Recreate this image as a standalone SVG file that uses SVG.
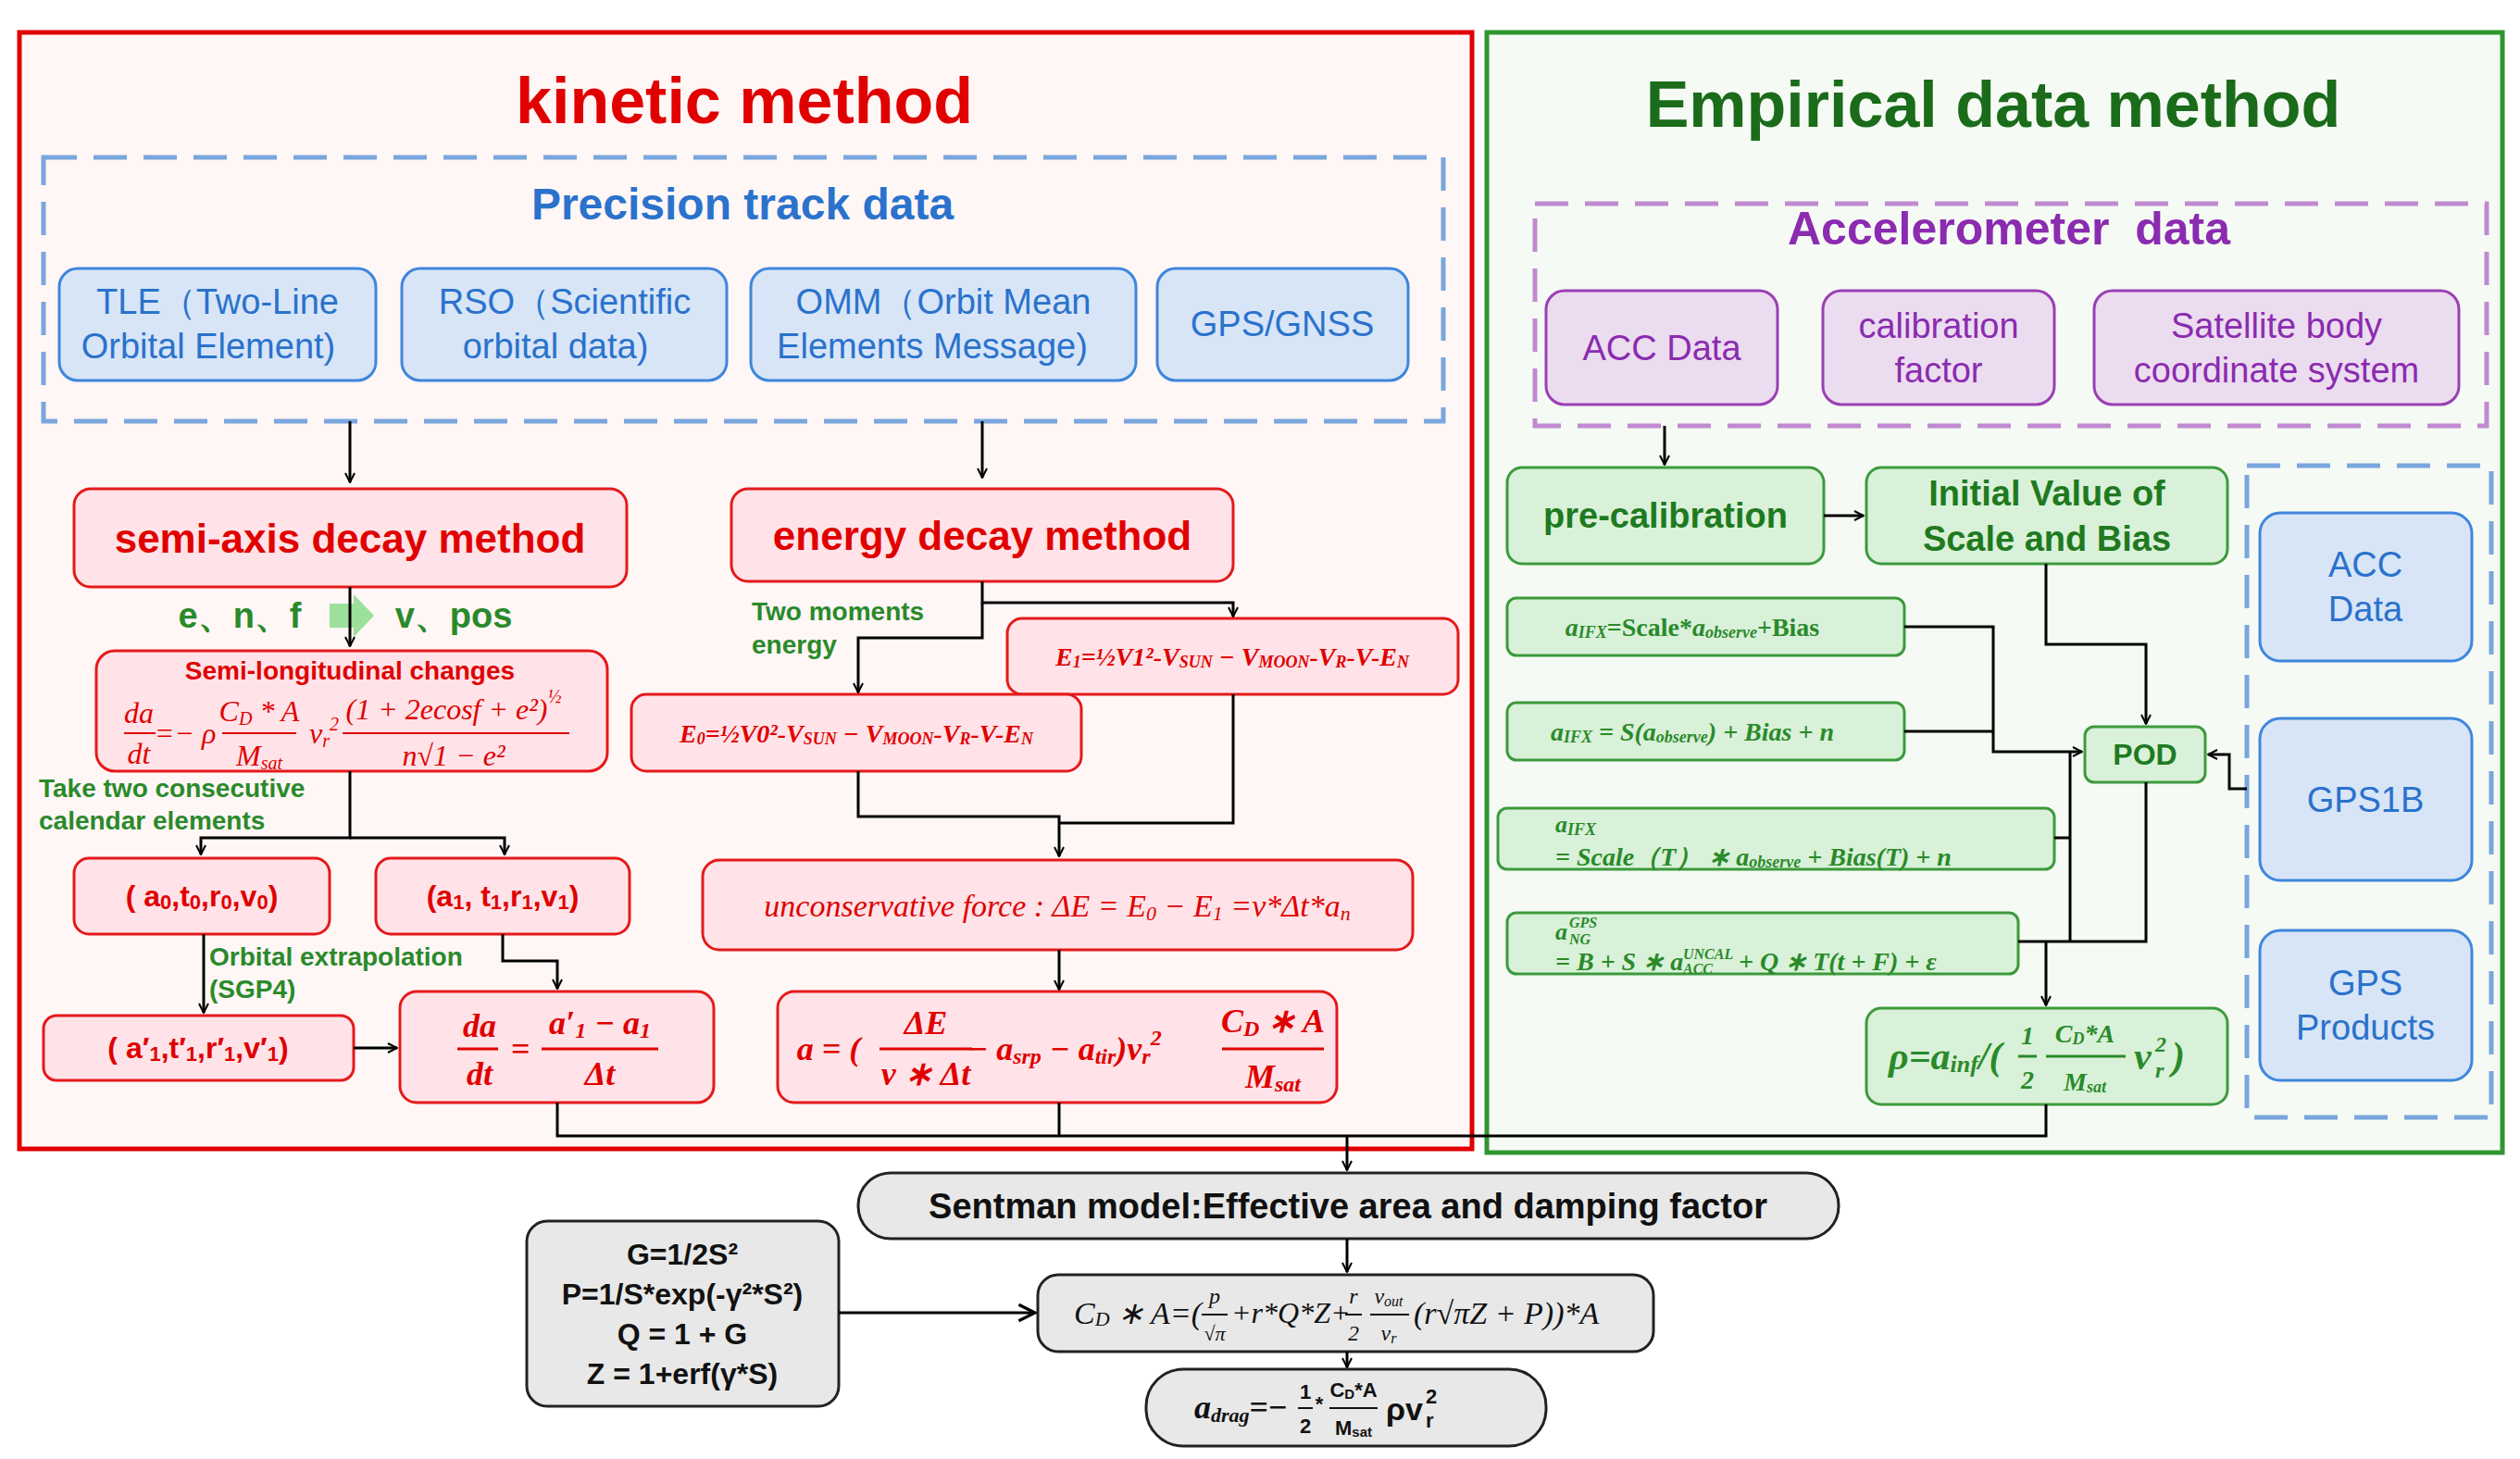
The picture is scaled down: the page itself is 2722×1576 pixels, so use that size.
<svg xmlns="http://www.w3.org/2000/svg" width="2722" height="1576" viewBox="0 0 2722 1576">
<defs>
<marker id="ar" viewBox="0 0 12 12" refX="11" refY="6" markerWidth="12" markerHeight="12" markerUnits="userSpaceOnUse" orient="auto"><path d="M1,1 L11,6 L1,11" fill="none" stroke="#000" stroke-width="2"/></marker>
<marker id="arb" viewBox="0 0 20 20" refX="18" refY="10" markerWidth="22" markerHeight="22" markerUnits="userSpaceOnUse" orient="auto"><path d="M2,2 L18,10 L2,18" fill="none" stroke="#000" stroke-width="3"/></marker>
</defs>
<style>
text{font-family:"Liberation Sans",Arial,sans-serif;text-anchor:middle;dominant-baseline:central}
.s{text-anchor:start}
.rn{fill:#ffe3e8;stroke:#e41a1a;stroke-width:3}
.rt{fill:#e00000;font-weight:bold}
.rf{fill:#e00000;font-family:"Liberation Serif",serif;font-style:italic}
.bn{fill:#d7e5f7;stroke:#3f86dc;stroke-width:3}
.bt{fill:#2a72cc;font-size:38px}
.pn{fill:#ecdcef;stroke:#9a3fb5;stroke-width:3}
.pt{fill:#8a2bb0;font-size:38px}
.gn{fill:#d9f1d9;stroke:#3c9a3c;stroke-width:3}
.gt{fill:#1f7a1f;font-weight:bold}
.gf{fill:#2a8a2a;font-family:"Liberation Serif",serif;font-weight:bold;font-style:italic}
.kn{fill:#e8e8e8;stroke:#222;stroke-width:3}
.kt{fill:#111;font-weight:bold}
.kf{fill:#111;font-family:"Liberation Serif",serif;font-style:italic}
.c{fill:none;stroke:#000;stroke-width:3}
.lab{fill:#2a8a2a;font-weight:bold}
</style>
<rect x="21" y="35" width="1569" height="1206" fill="#fff6f6" stroke="#e00000" stroke-width="5"/>
<rect x="1606" y="35" width="1097" height="1210" fill="#f5faf4" stroke="#2f962f" stroke-width="5"/>
<text x="804" y="109" font-size="70" font-weight="bold" fill="#e00000">kinetic method</text>
<text x="2153" y="113" font-size="70" font-weight="bold" fill="#1a6b1a">Empirical data method</text>
<rect x="47" y="170" width="1512" height="285" fill="none" stroke="#7aa6de" stroke-width="5" stroke-dasharray="36,18"/>
<text x="802" y="220" font-size="48" font-weight="bold" fill="#2a72cc">Precision track data</text>
<rect x="1658" y="220" width="1028" height="240" fill="none" stroke="#c08ad0" stroke-width="5" stroke-dasharray="36,18"/>
<text x="2170" y="247" font-size="50" font-weight="bold" fill="#8a2bb0">Accelerometer&#160; data</text>
<rect x="2427" y="503" width="264" height="704" fill="none" stroke="#7aa6de" stroke-width="5" stroke-dasharray="36,18"/>

<g id="tle"><rect class="bn" x="64" y="290" width="342" height="121" rx="20"/><text class="bt" x="235" y="326">TLE（Two-Line</text><text class="bt" x="225" y="374">Orbital Element)</text></g>
<g id="rso"><rect class="bn" x="434" y="290" width="351" height="121" rx="20"/><text class="bt" x="610" y="326">RSO（Scientific</text><text class="bt" x="600" y="374">orbital data)</text></g>
<g id="omm"><rect class="bn" x="811" y="290" width="416" height="121" rx="20"/><text class="bt" x="1019" y="326">OMM（Orbit Mean</text><text class="bt" x="1007" y="374">Elements Message)</text></g>
<g id="gps"><rect class="bn" x="1250" y="290" width="271" height="121" rx="20"/><text class="bt" x="1385" y="350">GPS/GNSS</text></g>

<g id="semi"><rect class="rn" x="80" y="528" width="597" height="106" rx="18"/><text class="rt" x="378" y="581" font-size="44">semi-axis decay method</text></g>
<g id="energy"><rect class="rn" x="790" y="528" width="542" height="100" rx="18"/><text class="rt" x="1061" y="578" font-size="44">energy decay method</text></g>
<g id="enf"><text class="lab" x="259" y="665" font-size="38">e、n、f</text><path d="M356,652 h26 v-10 l22,23 l-22,23 v-10 h-26z" fill="#9be09b"/><text class="lab" x="490" y="665" font-size="38">v、pos</text></g>
<g id="semilong"><rect class="rn" x="104" y="703" width="552" height="130" rx="20"/>
<text class="rt" x="378" y="724" font-size="28">Semi-longitudinal changes</text>
<text class="rf" font-size="32"><tspan x="150" y="770">da</tspan><tspan x="150" y="814">dt</tspan><tspan x="200" y="792">=− ρ</tspan><tspan x="280" y="768">C</tspan><tspan font-size="20" dy="8">D</tspan><tspan dy="-8"> * A</tspan><tspan x="280" y="816">M</tspan><tspan font-size="20" dy="8">sat</tspan><tspan x="350" y="792">v</tspan><tspan font-size="20" dy="8">r</tspan><tspan font-size="20" dy="-18">2</tspan><tspan x="490" y="766">(1 + 2ecosf + e²)</tspan><tspan font-size="20" dy="-14">½</tspan><tspan x="490" y="816">n√1 − e²</tspan></text>
<path d="M134,792 h34 M240,792 h80 M370,792 h245" stroke="#e00000" stroke-width="2"/></g>
<g id="take"><text class="lab s" x="42" y="851" font-size="28">Take two consecutive</text><text class="lab s" x="42" y="886" font-size="28">calendar elements</text></g>
<g id="a0"><rect class="rn" x="80" y="927" width="276" height="82" rx="16"/><text class="rt" x="218" y="968" font-size="32">( a<tspan font-size="22" dy="6">0</tspan><tspan dy="-6">,t</tspan><tspan font-size="22" dy="6">0</tspan><tspan dy="-6">,r</tspan><tspan font-size="22" dy="6">0</tspan><tspan dy="-6">,v</tspan><tspan font-size="22" dy="6">0</tspan><tspan dy="-6">)</tspan></text></g>
<g id="a1"><rect class="rn" x="406" y="927" width="274" height="82" rx="16"/><text class="rt" x="543" y="968" font-size="32">(a<tspan font-size="22" dy="6">1</tspan><tspan dy="-6">, t</tspan><tspan font-size="22" dy="6">1</tspan><tspan dy="-6">,r</tspan><tspan font-size="22" dy="6">1</tspan><tspan dy="-6">,v</tspan><tspan font-size="22" dy="6">1</tspan><tspan dy="-6">)</tspan></text></g>
<g id="orb"><text class="lab s" x="226" y="1033" font-size="28">Orbital extrapolation</text><text class="lab s" x="226" y="1068" font-size="28">(SGP4)</text></g>
<g id="aprime"><rect class="rn" x="47" y="1097" width="335" height="70" rx="14"/><text class="rt" x="214" y="1132" font-size="32">( a′<tspan font-size="22" dy="6">1</tspan><tspan dy="-6">,t′</tspan><tspan font-size="22" dy="6">1</tspan><tspan dy="-6">,r′</tspan><tspan font-size="22" dy="6">1</tspan><tspan dy="-6">,v′</tspan><tspan font-size="22" dy="6">1</tspan><tspan dy="-6">)</tspan></text></g>
<g id="dadt"><rect class="rn" x="432" y="1071" width="339" height="120" rx="18"/><text class="rf" font-size="36" font-weight="bold"><tspan x="518" y="1108">da</tspan><tspan x="518" y="1160">dt</tspan><tspan x="562" y="1133">=</tspan><tspan x="648" y="1105">a′</tspan><tspan font-size="24" dy="8">1</tspan><tspan dy="-8"> − a</tspan><tspan font-size="24" dy="8">1</tspan><tspan x="648" y="1160">Δt</tspan></text><path d="M494,1133 h44 M585,1133 h126" stroke="#e00000" stroke-width="3"/></g>
<g id="e1"><rect class="rn" x="1088" y="668" width="487" height="82" rx="16"/><text class="rf" x="1331" y="709" font-size="28" font-weight="bold">E<tspan font-size="18" dy="6">1</tspan><tspan dy="-6">=½V1²-V</tspan><tspan font-size="18" dy="6">SUN</tspan><tspan dy="-6"> − V</tspan><tspan font-size="18" dy="6">MOON</tspan><tspan dy="-6">-V</tspan><tspan font-size="18" dy="6">R</tspan><tspan dy="-6">-V-E</tspan><tspan font-size="18" dy="6">N</tspan></text></g>
<g id="tme"><text class="lab s" x="812" y="660" font-size="28">Two moments</text><text class="lab s" x="812" y="696" font-size="28">energy</text></g>
<g id="e0"><rect class="rn" x="682" y="750" width="486" height="83" rx="16"/><text class="rf" x="925" y="792" font-size="28" font-weight="bold">E<tspan font-size="18" dy="6">0</tspan><tspan dy="-6">=½V0²-V</tspan><tspan font-size="18" dy="6">SUN</tspan><tspan dy="-6"> − V</tspan><tspan font-size="18" dy="6">MOON</tspan><tspan dy="-6">-V</tspan><tspan font-size="18" dy="6">R</tspan><tspan dy="-6">-V-E</tspan><tspan font-size="18" dy="6">N</tspan></text></g>
<g id="uncons"><rect class="rn" x="759" y="929" width="767" height="97" rx="18"/><text class="rf" x="1142" y="978" font-size="34">unconservative force : ΔE = E<tspan font-size="22" dy="8">0</tspan><tspan dy="-8"> − E</tspan><tspan font-size="22" dy="8">1</tspan><tspan dy="-8"> =v*Δt*a</tspan><tspan font-size="22" dy="8">n</tspan></text></g>
<g id="aeq"><rect class="rn" x="840" y="1071" width="604" height="120" rx="18"/><text class="rf" font-size="36" font-weight="bold"><tspan x="895" y="1133">a = (</tspan><tspan x="1000" y="1105">ΔE</tspan><tspan x="1000" y="1160">v ∗ Δt</tspan><tspan x="1150" y="1133">− a</tspan><tspan font-size="24" dy="8">srp</tspan><tspan dy="-8"> − a</tspan><tspan font-size="24" dy="8">tir</tspan><tspan dy="-8">)v</tspan><tspan font-size="24" dy="8">r</tspan><tspan font-size="24" dy="-20">2</tspan><tspan x="1375" y="1103">C</tspan><tspan font-size="24" dy="8">D</tspan><tspan dy="-8"> ∗ A</tspan><tspan x="1375" y="1163">M</tspan><tspan font-size="24" dy="8">sat</tspan></text><path d="M950,1133 h100 M1320,1133 h110" stroke="#e00000" stroke-width="3"/></g>

<g id="accdata"><rect class="pn" x="1670" y="314" width="250" height="123" rx="20"/><text class="pt" x="1795" y="376">ACC Data</text></g>
<g id="calib"><rect class="pn" x="1969" y="314" width="250" height="123" rx="20"/><text class="pt" x="2094" y="352">calibration</text><text class="pt" x="2094" y="400">factor</text></g>
<g id="satbody"><rect class="pn" x="2262" y="314" width="394" height="123" rx="20"/><text class="pt" x="2459" y="352">Satellite body</text><text class="pt" x="2459" y="400">coordinate system</text></g>
<g id="precal"><rect class="gn" x="1628" y="505" width="342" height="104" rx="16"/><text class="gt" x="1799" y="557" font-size="38">pre-calibration</text></g>
<g id="initval"><rect class="gn" x="2016" y="505" width="390" height="104" rx="16"/><text class="gt" x="2211" y="533" font-size="38">Initial Value of</text><text class="gt" x="2211" y="582" font-size="38">Scale and Bias</text></g>
<g id="f1"><rect class="gn" x="1628" y="646" width="429" height="62" rx="10"/><text class="gf" x="1828" y="677" font-size="28">a<tspan font-size="18" dy="6">IFX</tspan><tspan dy="-6" font-style="normal">=Scale*</tspan><tspan>a</tspan><tspan font-size="18" dy="6">observe</tspan><tspan dy="-6" font-style="normal">+Bias</tspan></text></g>
<g id="f2"><rect class="gn" x="1628" y="759" width="429" height="62" rx="10"/><text class="gf" x="1828" y="790" font-size="28" font-style="normal">a<tspan font-size="18" dy="6">IFX</tspan><tspan dy="-6"> = S(a</tspan><tspan font-size="18" dy="6">observe</tspan><tspan dy="-6">) + Bias + n</tspan></text></g>
<g id="f3"><rect class="gn" x="1618" y="873" width="601" height="66" rx="10"/><text class="gf s" x="1680" y="890" font-size="26">a<tspan font-size="18" dy="6">IFX</tspan></text><text class="gf s" x="1680" y="925" font-size="28">= Scale（T） ∗ a<tspan font-size="18" dy="6">observe</tspan><tspan dy="-6"> + Bias(T) + n</tspan></text></g>
<g id="f4"><rect class="gn" x="1628" y="986" width="552" height="66" rx="10"/><text class="gf s" x="1680" y="1006" font-size="26">a</text><text class="gf s" x="1695" y="996" font-size="16">GPS</text><text class="gf s" x="1695" y="1014" font-size="16">NG</text><text class="gf s" x="1680" y="1038" font-size="28">= B + S ∗ a</text><text class="gf s" x="1818" y="1030" font-size="16">UNCAL</text><text class="gf s" x="1818" y="1046" font-size="16">ACC</text><text class="gf s" x="1878" y="1038" font-size="28">+ Q ∗ T(t + F) + ε</text></g>
<g id="pod"><rect class="gn" x="2252" y="785" width="130" height="60" rx="10"/><text class="gt" x="2317" y="815" font-size="32">POD</text></g>
<g id="rho"><rect class="gn" x="2016" y="1089" width="390" height="104" rx="16"/>
<text class="gf s" x="2040" y="1141" font-size="42">ρ=a<tspan font-size="26" dy="8">inf</tspan><tspan dy="-8">/(</tspan></text>
<text class="gf" x="2190" y="1118" font-size="28">1</text><text class="gf" x="2190" y="1166" font-size="28">2</text>
<text class="gf" x="2252" y="1116" font-size="28">C<tspan font-size="18" dy="6">D</tspan><tspan dy="-6">*A</tspan></text><text class="gf" x="2252" y="1168" font-size="28">M<tspan font-size="18" dy="6">sat</tspan></text>
<path d="M2180,1141 h20 M2210,1141 h86" stroke="#2a8a2a" stroke-width="3"/>
<text class="gf s" x="2305" y="1141" font-size="42">v</text><text class="gf s" x="2328" y="1128" font-size="24">2</text><text class="gf s" x="2328" y="1156" font-size="24">r</text><text class="gf s" x="2346" y="1141" font-size="42">)</text></g>
<g id="accblue"><rect class="bn" x="2441" y="554" width="229" height="160" rx="22"/><text class="bt" x="2555" y="610">ACC</text><text class="bt" x="2555" y="658">Data</text></g>
<g id="gps1b"><rect class="bn" x="2441" y="776" width="229" height="175" rx="22"/><text class="bt" x="2555" y="864">GPS1B</text></g>
<g id="gpsprod"><rect class="bn" x="2441" y="1005" width="229" height="162" rx="22"/><text class="bt" x="2555" y="1062">GPS</text><text class="bt" x="2555" y="1110">Products</text></g>

<g id="sentman"><rect class="kn" x="927" y="1267" width="1059" height="71" rx="35"/><text class="kt" x="1456" y="1303" font-size="38">Sentman model:Effective area and damping factor</text></g>
<g id="gpqz"><rect class="kn" x="569" y="1319" width="337" height="200" rx="22"/><text class="kt" x="737" y="1355" font-size="32">G=1/2S²</text><text class="kt" x="737" y="1398" font-size="32">P=1/S*exp(-γ²*S²)</text><text class="kt" x="737" y="1441" font-size="32">Q = 1 + G</text><text class="kt" x="737" y="1484" font-size="32">Z = 1+erf(γ*S)</text></g>
<g id="cda"><rect class="kn" x="1121" y="1377" width="665" height="83" rx="22"/>
<text class="kf s" x="1160" y="1418" font-size="34">C<tspan font-size="22" dy="6">D</tspan><tspan dy="-6"> ∗ A=(</tspan></text>
<text class="kf" x="1312" y="1400" font-size="24">p</text><text class="kf" x="1312" y="1440" font-size="22">√π</text>
<text class="kf s" x="1330" y="1418" font-size="32" font-style="normal">+r*Q*Z+</text>
<text class="kf" x="1462" y="1400" font-size="24">r</text><text class="kf" x="1462" y="1440" font-size="24">2</text>
<text class="kf" x="1500" y="1400" font-size="24">v<tspan font-size="16" dy="5">out</tspan></text><text class="kf" x="1500" y="1440" font-size="24">v<tspan font-size="16" dy="5">r</tspan></text>
<text class="kf s" x="1527" y="1418" font-size="34">(r√πZ + P))*A</text>
<path d="M1298,1420 h28 M1453,1420 h18 M1480,1420 h42" stroke="#111" stroke-width="2"/></g>
<g id="adrag"><rect class="kn" x="1238" y="1479" width="432" height="83" rx="40"/>
<text class="kf s" x="1290" y="1520" font-size="36" font-weight="bold">a<tspan font-size="22" dy="8">drag</tspan><tspan dy="-8" font-style="normal">=−</tspan></text>
<text class="kt" x="1410" y="1503" font-size="22">1</text><text class="kt" x="1410" y="1540" font-size="22">2</text><text class="kt" x="1425" y="1516" font-size="22">*</text>
<text class="kt" x="1462" y="1501" font-size="22">C<tspan font-size="15" dy="4">D</tspan><tspan dy="-4">*A</tspan></text><text class="kt" x="1462" y="1542" font-size="22">M<tspan font-size="15" dy="4">sat</tspan></text>
<path d="M1402,1521 h16 M1436,1521 h52" stroke="#111" stroke-width="2"/>
<text class="kt s" x="1497" y="1522" font-size="34">ρv</text><text class="kt s" x="1540" y="1508" font-size="22">2</text><text class="kt s" x="1540" y="1534" font-size="22">r</text></g>

<g id="connectors">
<path class="c" d="M378,455 V521" marker-end="url(#ar)"/>
<path class="c" d="M1061,455 V516" marker-end="url(#ar)"/>
<path class="c" d="M378,634 V698" marker-end="url(#ar)"/>
<path class="c" d="M378,833 V905 H217 V923" marker-end="url(#ar)"/>
<path class="c" d="M378,905 H545 V923" marker-end="url(#ar)"/>
<path class="c" d="M220,1009 V1094" marker-end="url(#ar)"/>
<path class="c" d="M543,1009 V1038 H602 V1068" marker-end="url(#ar)"/>
<path class="c" d="M382,1132 H429" marker-end="url(#ar)"/>
<path class="c" d="M1061,628 V651 H1332 V666" marker-end="url(#ar)"/>
<path class="c" d="M1061,651 V689 H927 V748" marker-end="url(#ar)"/>
<path class="c" d="M927,833 V882 H1144 V925" marker-end="url(#ar)"/>
<path class="c" d="M1332,750 V889 H1144"/>
<path class="c" d="M1144,1026 V1069" marker-end="url(#ar)"/>
<path class="c" d="M602,1191 V1227 H2210 V1193"/>
<path class="c" d="M1144,1191 V1227"/>
<path class="c" d="M1455,1227 V1264" marker-end="url(#ar)"/>
<path class="c" d="M1798,460 V502" marker-end="url(#ar)"/>
<path class="c" d="M1970,557 H2013" marker-end="url(#ar)"/>
<path class="c" d="M2210,609 V696 H2318 V782" marker-end="url(#ar)"/>
<path class="c" d="M2057,677 H2153 V812 H2249" marker-end="url(#ar)"/>
<path class="c" d="M2057,790 H2153"/>
<path class="c" d="M2219,905 H2236"/>
<path class="c" d="M2236,812 V1017"/>
<path class="c" d="M2180,1017 H2318 V845"/>
<path class="c" d="M2210,1017 V1086" marker-end="url(#ar)"/>
<path class="c" d="M2427,852 H2408 V815 H2385" marker-end="url(#ar)"/>
<path class="c" d="M1455,1338 V1374" marker-end="url(#ar)"/>
<path class="c" d="M906,1418 H1118" marker-end="url(#arb)"/>
<path class="c" d="M1455,1460 V1477" marker-end="url(#ar)"/>
</g>
</svg>
